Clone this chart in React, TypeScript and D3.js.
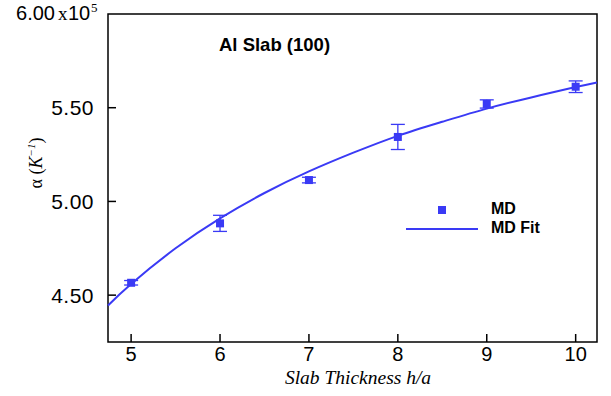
import * as d3 from "d3";

// MD data for the Al (100) slab
const thickness = [5, 6, 7, 8, 9, 10];
const alpha = [4.566, 4.883, 5.114, 5.344, 5.52, 5.612];
const alphaErr = [0.012, 0.043, 0.015, 0.067, 0.022, 0.031];

// fit curve
const fitX = [4.74, 5, 5.5, 6, 6.5, 7, 7.5, 8, 8.5, 9, 9.5, 10, 10.24];
const fitY = [4.445, 4.56, 4.75, 4.91, 5.045, 5.16, 5.26, 5.35, 5.425, 5.495, 5.555, 5.61, 5.635];

const xTicks = [5, 6, 7, 8, 9, 10];
const yTicks = [4.5, 5.0, 5.5];

const W = 611;
const H = 396;
const left = 108, right = 597, top = 14, bottom = 342;
const blue = "#3a3af5";
const sans = "'Liberation Sans', Arial, Helvetica, sans-serif";
const serif = "'Liberation Serif', 'Times New Roman', serif";

export default function App() {
  const x = d3.scaleLinear().domain([4.74, 10.24]).range([left, right]);
  const y = d3.scaleLinear().domain([4.25, 6.0]).range([bottom, top]);

  const fitLine = d3
    .line<number>()
    .x((d, i) => x(fitX[i]))
    .y((d) => y(d))
    .curve(d3.curveNatural);

  return (
    <svg
      width={W}
      height={H}
      style={{ position: "absolute", left: 0, top: 0, background: "#fff" }}
    >
      {/* frame */}
      <rect
        x={left}
        y={top}
        width={right - left}
        height={bottom - top}
        fill="none"
        stroke="#000"
        strokeWidth={1.5}
      />

      {/* y ticks, inward */}
      {yTicks.map((t) => (
        <g key={t}>
          <line x1={left} x2={left + 8} y1={y(t)} y2={y(t)} stroke="#000" strokeWidth={1.5} />
          <text
            x={94}
            y={y(t)}
            dy="0.36em"
            textAnchor="end"
            fontFamily={sans}
            fontSize={21}
            letterSpacing={0.5}
          >
            {t.toFixed(2)}
          </text>
        </g>
      ))}
      {/* top label 6.00 x 10^5 */}
      <text x={55} y={20} textAnchor="end" fontFamily={sans} fontSize={20}>
        {y.domain()[1].toFixed(2)}
      </text>
      <text x={58} y={20} fontFamily={serif} fontSize={19}>x</text>
      <text x={68} y={20} fontFamily={sans} fontSize={20}>10</text>
      <text x={91} y={12} fontFamily={serif} fontSize={13}>5</text>

      {/* x ticks, inward */}
      {xTicks.map((t) => (
        <g key={t}>
          <line x1={x(t)} x2={x(t)} y1={bottom} y2={bottom - 8} stroke="#000" strokeWidth={1.5} />
          <text
            x={x(t)}
            y={bottom + 19}
            textAnchor="middle"
            fontFamily={sans}
            fontSize={20}
          >
            {t}
          </text>
        </g>
      ))}

      {/* axis titles */}
      <text
        x={358}
        y={384}
        textAnchor="middle"
        fontFamily={serif}
        fontStyle="italic"
        fontSize={19.5}
      >
        Slab Thickness h/a
      </text>
      <text
        transform="translate(42,163) rotate(-90)"
        textAnchor="middle"
        fontFamily={serif}
        fontSize={18}
      >
        α (<tspan fontStyle="italic">K</tspan>
        <tspan fontStyle="italic" fontSize={11} dy={-7}>−1</tspan>
        <tspan dy={7}>)</tspan>
      </text>

      <text x={219} y={51} fontFamily={sans} fontWeight="bold" fontSize={18.5}>
        Al Slab (100)
      </text>

      {/* fit */}
      <path d={fitLine(fitY) ?? ""} fill="none" stroke={blue} strokeWidth={2} />

      {/* MD points with error bars */}
      {thickness.map((t, i) => {
        const cx = x(t);
        const y0 = y(alpha[i] - alphaErr[i]);
        const y1 = y(alpha[i] + alphaErr[i]);
        return (
          <g key={t} stroke={blue} strokeWidth={1.3}>
            <line x1={cx} x2={cx} y1={y0} y2={y1} />
            <line x1={cx - 7} x2={cx + 7} y1={y0} y2={y0} />
            <line x1={cx - 7} x2={cx + 7} y1={y1} y2={y1} />
            <rect x={cx - 4} y={y(alpha[i]) - 4} width={8} height={8} fill={blue} stroke="none" />
          </g>
        );
      })}

      {/* legend */}
      <rect x={438} y={206} width={8} height={8} fill={blue} />
      <line x1={406} x2={478} y1={229} y2={229} stroke={blue} strokeWidth={2} />
      <text x={491} y={214} fontFamily={sans} fontWeight="bold" fontSize={16}>
        MD
      </text>
      <text x={491} y={233} fontFamily={sans} fontWeight="bold" fontSize={16}>
        MD Fit
      </text>
    </svg>
  );
}
